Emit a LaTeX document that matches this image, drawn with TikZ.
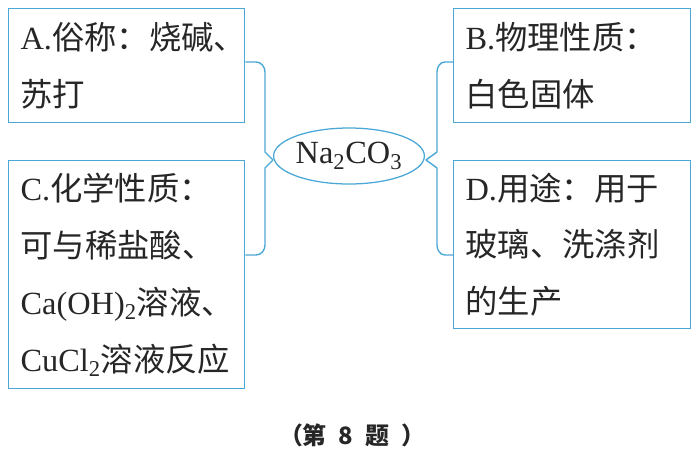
\documentclass[tikz,border=0pt]{standalone}
\usepackage{fontspec}
\setmainfont{Liberation Serif}
\newfontfamily\cjk{Noto Sans CJK SC}
\usetikzlibrary{shapes.geometric,calc,positioning}
\definecolor{frameblue}{RGB}{75,168,214}

\begin{document}
\begin{tikzpicture}[
  infobox/.style={draw=frameblue, line width=0.9pt, anchor=north west, align=left,
    inner xsep=0.3cm, inner ysep=0pt, text=black!85,
    font=\fontsize{23}{40.5}\selectfont},
  hub/.style={draw=frameblue, line width=0.9pt, ellipse, inner sep=0pt,
    minimum width=3.375cm, minimum height=1.4cm, text=black!85,
    font=\fontsize{23}{26}\selectfont},
  brace/.style={draw=frameblue, line width=1pt, line join=round},
  captext/.style={font=\fontsize{17}{19}\selectfont\bfseries, text=black!85}
]
\useasboundingbox (0,0) rectangle (17.45,-11.4);

% ---------- Left boxes ----------
\node[infobox, text width=5.3cm, minimum height=2.85cm] (boxA) at (0.2,-0.2)
  {A.{\cjk 俗称：烧碱、}\\{\cjk 苏打}};
\node[infobox, text width=5.3cm, minimum height=5.7cm] (boxC) at (0.2,-4.0)
  {C.{\cjk 化学性质：}\\{\cjk 可与稀盐酸、}\\Ca(OH)\textsubscript{2}{\cjk 溶液、}\\CuCl\textsubscript{2}{\cjk 溶液反应}};

% ---------- Right boxes ----------
\node[infobox, text width=5.325cm, minimum height=2.85cm] (boxB) at (11.325,-0.2)
  {B.{\cjk 物理性质：}\\{\cjk 白色固体}};
\node[infobox, text width=5.325cm, minimum height=4.2cm] (boxD) at (11.325,-4.0)
  {D.{\cjk 用途：用于}\\{\cjk 玻璃、洗涤剂}\\{\cjk 的生产}};

% ---------- Centre ----------
\node[hub] (soda) at (8.725,-3.9) {Na\textsubscript{2}CO\textsubscript{3}};

% ---------- Braces ----------
\coordinate (ltip) at (6.825,-4.0);
\coordinate (rtip) at (10.65,-4.0);
\draw[brace] ($(boxA.north east)+(0,-1.35)$) -- (6.4,-1.55)
  to[out=0,in=90] (6.625,-1.8) -- (6.625,-3.8) -- (ltip) -- (6.625,-4.2)
  -- (6.625,-6.125) to[out=-90,in=0] (6.4,-6.375) -- ($(boxC.north east)+(0,-2.375)$);
\draw[brace] ($(boxB.north west)+(0,-1.35)$) -- (11.125,-1.55)
  to[out=180,in=90] (10.925,-1.8) -- (10.925,-3.8) -- (rtip) -- (10.925,-4.2)
  -- (10.925,-6.125) to[out=-90,in=180] (11.125,-6.375) -- ($(boxD.north west)+(0,-2.375)$);

% ---------- Caption ----------
\node[captext] (caption) at (8.8,-10.875) {\cjk （第\enspace 8\enspace 题\enspace）};

\end{tikzpicture}
\end{document}
